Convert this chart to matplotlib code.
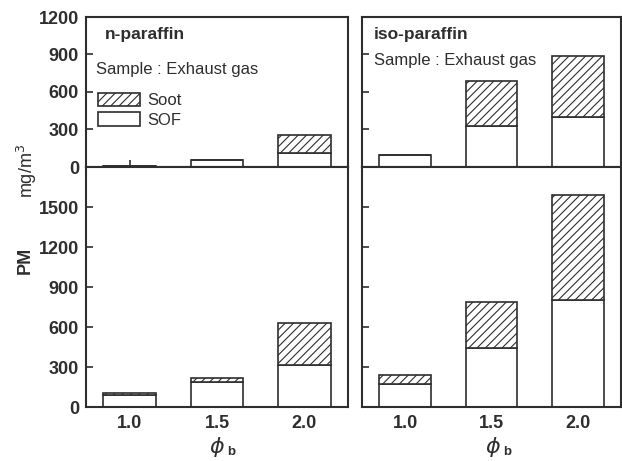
import matplotlib
matplotlib.use("Agg")
import matplotlib.pyplot as plt
import matplotlib.patches as mpatches

# Equivalence ratio of the burner
phi_b = [1.0, 1.5, 2.0]

# Exhaust gas sample (upper row), PM in mg/m^3
n_exh_sof = [5, 55, 110]
n_exh_soot = [0, 0, 145]
iso_exh_sof = [95, 330, 400]
iso_exh_soot = [0, 360, 490]

# Lower row, PM in mg/m^3
n_low_sof = [90, 185, 312]
n_low_soot = [15, 30, 320]
iso_low_sof = [175, 445, 800]
iso_low_soot = [65, 345, 790]

top_yticks = [0, 300, 600, 900, 1200]
low_yticks = [0, 300, 600, 900, 1200, 1500]
xticks = [1.0, 1.5, 2.0]
xticklabels = ["1.0", "1.5", "2.0"]

INK = "#2e2e2e"
plt.rcParams["font.family"] = ["Liberation Sans", "DejaVu Sans"]
plt.rcParams["hatch.linewidth"] = 0.8
plt.rcParams["hatch.color"] = INK

W, H = 622, 461
fig = plt.figure(figsize=(W / 100, H / 100), dpi=100)


def box(x0, x1, y0, y1):
    return [x0 / W, 1 - y1 / H, (x1 - x0) / W, (y1 - y0) / H]


ax_tl = fig.add_axes(box(86, 348, 17, 167))
ax_tr = fig.add_axes(box(362, 621, 17, 167))
ax_bl = fig.add_axes(box(86, 348, 167, 407))
ax_br = fig.add_axes(box(362, 621, 167, 407))

panels = [
    (ax_tl, n_exh_sof, n_exh_soot, 1200, top_yticks, True, False),
    (ax_tr, iso_exh_sof, iso_exh_soot, 1200, top_yticks, False, False),
    (ax_bl, n_low_sof, n_low_soot, 1800, low_yticks, True, True),
    (ax_br, iso_low_sof, iso_low_soot, 1800, low_yticks, False, True),
]

for ax, sof, soot, ymax, yt, ylab, xlab in panels:
    ax.bar(phi_b, sof, width=0.3, facecolor="white", edgecolor=INK,
           linewidth=1.2, zorder=2)
    ax.bar(phi_b, soot, width=0.3, bottom=sof, facecolor="white",
           edgecolor=INK, linewidth=1.2, hatch="////", zorder=2)
    ax.set_xlim(0.75, 2.25)
    ax.set_ylim(0, ymax)
    ax.set_xticks(xticks)
    ax.set_yticks(yt)
    ax.tick_params(axis="y", direction="in", length=5, width=1.2,
                   color=INK, labelsize=13, pad=5, labelcolor=INK,
                   labelleft=ylab)
    ax.tick_params(axis="x", direction="in", length=5, width=1.2,
                   color=INK, labelsize=13, pad=6, labelcolor=INK,
                   labelbottom=xlab)
    if xlab:
        ax.set_xticklabels(xticklabels)
    for lbl in ax.get_xticklabels() + ax.get_yticklabels():
        lbl.set_fontweight("bold")
    for sp in ax.spines.values():
        sp.set_linewidth(1.5)
        sp.set_color(INK)

# Panel annotations
ax_tl.text(0.0725, 0.88, "n-paraffin", transform=ax_tl.transAxes,
           fontsize=12.5, fontweight="bold", color=INK, va="center")
ax_tl.text(0.038, 0.647, "Sample : Exhaust gas", transform=ax_tl.transAxes,
           fontsize=12, color=INK, va="center")
ax_tr.text(0.046, 0.88, "iso-paraffin", transform=ax_tr.transAxes,
           fontsize=12.5, fontweight="bold", color=INK, va="center")
ax_tr.text(0.046, 0.713, "Sample : Exhaust gas", transform=ax_tr.transAxes,
           fontsize=12, color=INK, va="center")

handles = [
    mpatches.Patch(facecolor="white", edgecolor=INK, linewidth=1.2,
                   hatch="////", label="Soot"),
    mpatches.Patch(facecolor="white", edgecolor=INK, linewidth=1.2,
                   label="SOF"),
]
leg = ax_tl.legend(handles=handles, loc="upper left",
                   bbox_to_anchor=(0.047, 0.495), frameon=False, fontsize=12,
                   handlelength=2.5, handleheight=0.85, handletextpad=0.45,
                   labelspacing=0.25, borderaxespad=0, borderpad=0)
for t in leg.get_texts():
    t.set_color(INK)

# Shared y-axis label
fig.text(25 / W, 1 - 260 / H, "PM", rotation=90, fontsize=13,
         fontweight="bold", color=INK, ha="center", va="center")
fig.text(27 / W, 1 - 171 / H, "mg/m$^3$", rotation=90, fontsize=13,
         color=INK, ha="center", va="center")

# x-axis labels under each column
for xc in (217, 493):
    fig.text(xc / W, 1 - 447 / H, r"$\phi$", fontsize=16, color=INK,
             ha="center", va="center")
    fig.text((xc + 14) / W, 1 - 452 / H, "b", fontsize=9.5,
             fontweight="bold", color=INK, ha="center", va="center")

fig.savefig("out.png", dpi=100, facecolor="white")
